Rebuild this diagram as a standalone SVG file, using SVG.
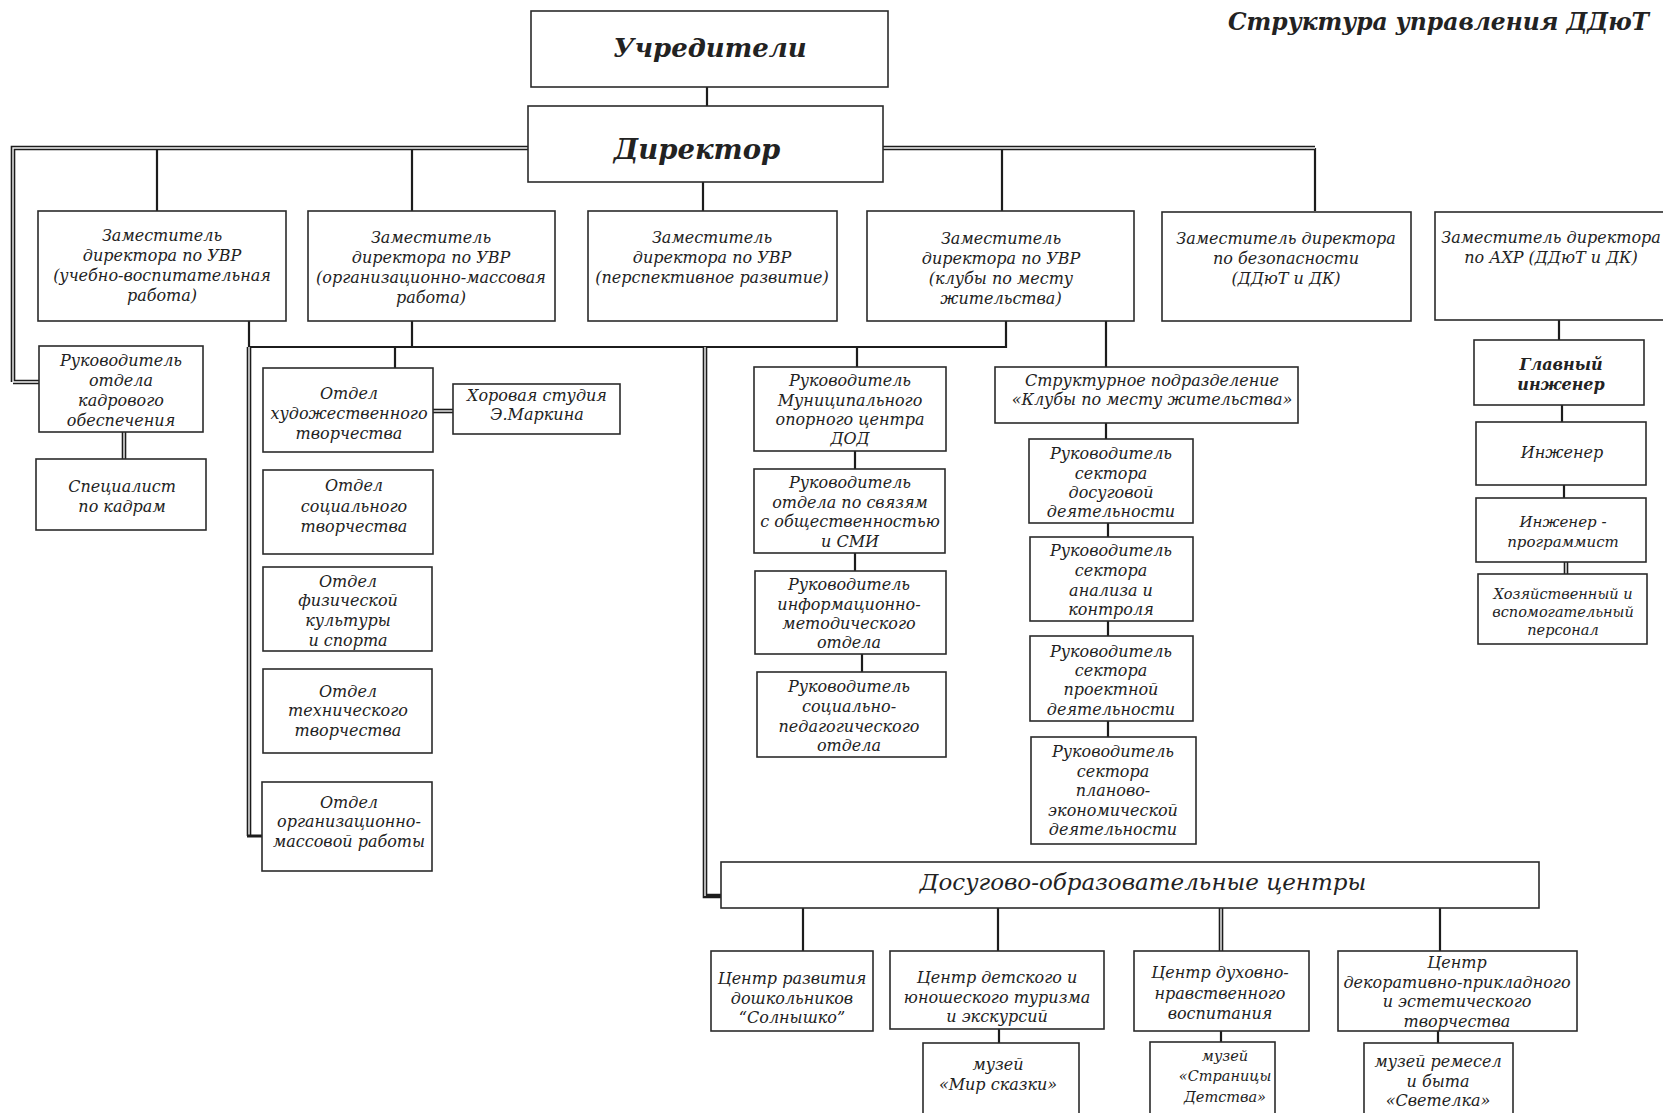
<svg xmlns="http://www.w3.org/2000/svg" width="1663" height="1113" viewBox="0 0 1663 1113">
<style>
.box{fill:#fff;stroke:#2b2b2b;stroke-width:1.6}
.t{font-family:"DejaVu Serif","Liberation Serif",serif;font-style:italic;font-size:16px;fill:#222;text-anchor:middle}
.s{font-size:15px}
.xs{font-size:14.5px}
.bt{font-weight:bold}
.ln{stroke:#1c1c1c;stroke-width:2.2;fill:none}
.dO{stroke:#1c1c1c;stroke-width:4.6;fill:none}
.dI{stroke:#f4f4f4;stroke-width:1.4;fill:none}
</style>
<rect width="1663" height="1113" fill="#fff"/>
<text x="1649" y="30" class="t bt" style="font-size:23.4px;text-anchor:end">Структура управления ДДюТ</text>

<g id="connectors">
  <path class="ln" d="M707 87V106M703 182V211M157 148V211M412 148V211M1002 148V211M1315 148V211"/>
  <path class="dO" d="M13 382V148H1315M13 382H39"/>
  <path class="dI" d="M13 382V148H1315M13 382H39"/>
  <path class="dO" d="M124 432V459"/><path class="dI" d="M124 432V459"/>
  <path class="ln" d="M249 321V347H1006V321M412 321V347M395 347V368M857 347V367M1106 321V367"/>
  <path class="dO" d="M249 347V836"/><path class="dI" d="M249 347V836"/>
  <path class="ln" style="stroke-width:3" d="M247 836H262"/>
  <path class="dO" d="M433 411H453"/><path class="dI" d="M433 411H453"/>
  <path class="dO" d="M705 347V896H721"/><path class="dI" d="M705 347V896"/>
  <path class="ln" d="M855 451V469M855 553V571M862 654V672"/>
  <path class="ln" d="M1106 423V439M1108 523V537M1108 621V636M1108 721V737"/>
  <path class="ln" d="M1559 320V340M1562 405V422M1564 485V498"/>
  <path class="dO" d="M1566 562V574"/><path class="dI" d="M1566 562V574"/>
  <path class="ln" d="M803 908V951M998 908V951M1440 908V951M999 1029V1043M1221 1031V1042M1438 1031V1043"/>
  <path class="dO" d="M1221 908V951"/><path class="dI" d="M1221 908V951"/>
</g>

<g id="n-uchrediteli"><rect class="box" x="531" y="11" width="357" height="76"/>
<text class="t bt" x="710" y="57" style="font-size:26px">Учредители</text></g>
<g id="n-direktor"><rect class="box" x="528" y="106" width="355" height="76"/>
<text class="t bt" x="697" y="159" style="font-size:27.5px">Директор</text></g>

<g id="n-zam1"><rect class="box" x="38" y="211" width="248" height="110"/>
<text class="t" x="162"><tspan x="162" y="241">Заместитель</tspan><tspan x="162" y="261">директора по УВР</tspan><tspan x="162" y="281">(учебно-воспитательная</tspan><tspan x="162" y="301">работа)</tspan></text></g>
<g id="n-zam2"><rect class="box" x="308" y="211" width="247" height="110"/>
<text class="t" x="431"><tspan x="431" y="243">Заместитель</tspan><tspan x="431" y="263">директора по УВР</tspan><tspan x="431" y="283">(организационно-массовая</tspan><tspan x="431" y="303">работа)</tspan></text></g>
<g id="n-zam3"><rect class="box" x="588" y="211" width="249" height="110"/>
<text class="t" x="712"><tspan x="712" y="243">Заместитель</tspan><tspan x="712" y="263">директора по УВР</tspan><tspan x="712" y="283">(перспективное развитие)</tspan></text></g>
<g id="n-zam4"><rect class="box" x="867" y="211" width="267" height="110"/>
<text class="t" x="1001"><tspan x="1001" y="244">Заместитель</tspan><tspan x="1001" y="264">директора по УВР</tspan><tspan x="1001" y="284">(клубы по месту</tspan><tspan x="1001" y="304">жительства)</tspan></text></g>
<g id="n-zam5"><rect class="box" x="1162" y="212" width="249" height="109"/>
<text class="t" x="1286"><tspan x="1286" y="244">Заместитель директора</tspan><tspan x="1286" y="264">по безопасности</tspan><tspan x="1286" y="284">(ДДюТ и ДК)</tspan></text></g>
<g id="n-zam6"><rect class="box" x="1435" y="212" width="260" height="108"/>
<text class="t" x="1551"><tspan x="1551" y="243">Заместитель директора</tspan><tspan x="1551" y="263">по АХР (ДДюТ и ДК)</tspan></text></g>

<g id="n-kadry"><rect class="box" x="39" y="346" width="164" height="86"/>
<text class="t" x="121"><tspan x="121" y="366">Руководитель</tspan><tspan x="121" y="386">отдела</tspan><tspan x="121" y="406">кадрового</tspan><tspan x="121" y="426">обеспечения</tspan></text></g>
<g id="n-spec"><rect class="box" x="36" y="459" width="170" height="71"/>
<text class="t" x="122"><tspan x="122" y="492">Специалист</tspan><tspan x="122" y="512">по кадрам</tspan></text></g>

<g id="n-hud"><rect class="box" x="263" y="368" width="170" height="84"/>
<text class="t" x="349"><tspan x="349" y="399">Отдел</tspan><tspan x="349" y="419">художественного</tspan><tspan x="349" y="439">творчества</tspan></text></g>
<g id="n-hor"><rect class="box" x="453" y="384" width="167" height="50"/>
<text class="t" x="537"><tspan x="537" y="401">Хоровая студия</tspan><tspan x="537" y="420">Э.Маркина</tspan></text></g>
<g id="n-soc"><rect class="box" x="263" y="470" width="170" height="84"/>
<text class="t" x="354"><tspan x="354" y="491">Отдел</tspan><tspan x="354" y="512">социального</tspan><tspan x="354" y="532">творчества</tspan></text></g>
<g id="n-fiz"><rect class="box" x="263" y="567" width="169" height="84"/>
<text class="t" x="348"><tspan x="348" y="587">Отдел</tspan><tspan x="348" y="606">физической</tspan><tspan x="348" y="626">культуры</tspan><tspan x="348" y="646">и спорта</tspan></text></g>
<g id="n-teh"><rect class="box" x="263" y="669" width="169" height="84"/>
<text class="t" x="348"><tspan x="348" y="697">Отдел</tspan><tspan x="348" y="716">технического</tspan><tspan x="348" y="736">творчества</tspan></text></g>
<g id="n-orgm"><rect class="box" x="262" y="782" width="170" height="89"/>
<text class="t" x="349"><tspan x="349" y="808">Отдел</tspan><tspan x="349" y="827">организационно-</tspan><tspan x="349" y="847">массовой работы</tspan></text></g>

<g id="n-moc"><rect class="box" x="754" y="367" width="192" height="84"/>
<text class="t" x="850"><tspan x="850" y="386">Руководитель</tspan><tspan x="850" y="406">Муниципального</tspan><tspan x="850" y="425">опорного центра</tspan><tspan x="850" y="444">ДОД</tspan></text></g>
<g id="n-smi"><rect class="box" x="754" y="469" width="191" height="84"/>
<text class="t" x="850"><tspan x="850" y="488">Руководитель</tspan><tspan x="850" y="508">отдела по связям</tspan><tspan x="850" y="527">с общественностью</tspan><tspan x="850" y="547">и СМИ</tspan></text></g>
<g id="n-imo"><rect class="box" x="755" y="571" width="191" height="83"/>
<text class="t" x="849"><tspan x="849" y="590">Руководитель</tspan><tspan x="849" y="610">информационно-</tspan><tspan x="849" y="629">методического</tspan><tspan x="849" y="648">отдела</tspan></text></g>
<g id="n-spo"><rect class="box" x="757" y="672" width="189" height="85"/>
<text class="t" x="849"><tspan x="849" y="692">Руководитель</tspan><tspan x="849" y="712">социально-</tspan><tspan x="849" y="732">педагогического</tspan><tspan x="849" y="751">отдела</tspan></text></g>

<g id="n-struct"><rect class="box" x="995" y="367" width="303" height="56"/>
<text class="t" x="1152"><tspan x="1152" y="386">Структурное подразделение</tspan><tspan x="1152" y="405">«Клубы по месту жительства»</tspan></text></g>
<g id="n-dosug"><rect class="box" x="1029" y="439" width="164" height="84"/>
<text class="t" x="1111"><tspan x="1111" y="459">Руководитель</tspan><tspan x="1111" y="479">сектора</tspan><tspan x="1111" y="498">досуговой</tspan><tspan x="1111" y="517">деятельности</tspan></text></g>
<g id="n-analiz"><rect class="box" x="1030" y="537" width="163" height="84"/>
<text class="t" x="1111"><tspan x="1111" y="556">Руководитель</tspan><tspan x="1111" y="576">сектора</tspan><tspan x="1111" y="596">анализа и</tspan><tspan x="1111" y="615">контроля</tspan></text></g>
<g id="n-proekt"><rect class="box" x="1030" y="636" width="163" height="85"/>
<text class="t" x="1111"><tspan x="1111" y="657">Руководитель</tspan><tspan x="1111" y="676">сектора</tspan><tspan x="1111" y="695">проектной</tspan><tspan x="1111" y="715">деятельности</tspan></text></g>
<g id="n-plan"><rect class="box" x="1031" y="737" width="165" height="107"/>
<text class="t" x="1113"><tspan x="1113" y="757">Руководитель</tspan><tspan x="1113" y="777">сектора</tspan><tspan x="1113" y="796">планово-</tspan><tspan x="1113" y="816">экономической</tspan><tspan x="1113" y="835">деятельности</tspan></text></g>

<g id="n-glavinj"><rect class="box" x="1474" y="340" width="170" height="65"/>
<text class="t bt" x="1561"><tspan x="1561" y="370">Главный</tspan><tspan x="1561" y="390">инженер</tspan></text></g>
<g id="n-inj"><rect class="box" x="1476" y="422" width="170" height="63"/>
<text class="t" x="1562" y="458">Инженер</text></g>
<g id="n-prog"><rect class="box" x="1476" y="498" width="170" height="64"/>
<text class="t s" x="1563"><tspan x="1563" y="527">Инженер -</tspan><tspan x="1563" y="547">программист</tspan></text></g>
<g id="n-hoz"><rect class="box" x="1478" y="574" width="169" height="70"/>
<text class="t xs" x="1563"><tspan x="1563" y="599">Хозяйственный и</tspan><tspan x="1563" y="617">вспомогательный</tspan><tspan x="1563" y="635">персонал</tspan></text></g>

<g id="n-doc"><rect class="box" x="721" y="862" width="818" height="46"/>
<text class="t" x="1143" y="890" style="font-size:23px">Досугово-образовательные центры</text></g>
<g id="n-soln"><rect class="box" x="711" y="951" width="162" height="80"/>
<text class="t" x="792"><tspan x="792" y="984">Центр развития</tspan><tspan x="792" y="1004">дошкольников</tspan><tspan x="792" y="1023">“Солнышко”</tspan></text></g>
<g id="n-tur"><rect class="box" x="890" y="951" width="214" height="78"/>
<text class="t" x="997"><tspan x="997" y="983">Центр детского и</tspan><tspan x="997" y="1003">юношеского туризма</tspan><tspan x="997" y="1022">и экскурсий</tspan></text></g>
<g id="n-duh"><rect class="box" x="1134" y="951" width="175" height="80"/>
<text class="t" x="1220"><tspan x="1220" y="978">Центр духовно-</tspan><tspan x="1220" y="999">нравственного</tspan><tspan x="1220" y="1019">воспитания</tspan></text></g>
<g id="n-dek"><rect class="box" x="1338" y="951" width="239" height="80"/>
<text class="t" x="1457"><tspan x="1457" y="968">Центр</tspan><tspan x="1457" y="988">декоративно-прикладного</tspan><tspan x="1457" y="1007">и эстетического</tspan><tspan x="1457" y="1027">творчества</tspan></text></g>
<g id="n-mir"><rect class="box" x="923" y="1043" width="156" height="80"/>
<text class="t" x="998"><tspan x="998" y="1070">музей</tspan><tspan x="998" y="1090">«Мир сказки»</tspan></text></g>
<g id="n-str"><rect class="box" x="1150" y="1042" width="125" height="80"/>
<text class="t" x="1225" style="font-size:14.5px"><tspan x="1225" y="1061">музей</tspan><tspan x="1225" y="1081">«Страницы</tspan><tspan x="1225" y="1102">Детства»</tspan></text></g>
<g id="n-svet"><rect class="box" x="1364" y="1043" width="149" height="80"/>
<text class="t" x="1438"><tspan x="1438" y="1067">музей ремесел</tspan><tspan x="1438" y="1087">и быта</tspan><tspan x="1438" y="1106">«Светелка»</tspan></text></g>
</svg>
